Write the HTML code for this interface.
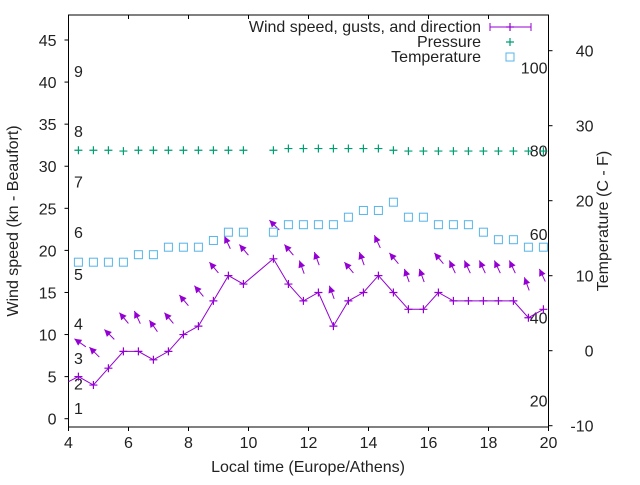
<!DOCTYPE html>
<html><head><meta charset="utf-8"><style>
body{margin:0;background:#fff}
svg text{font-family:"Liberation Sans",sans-serif;font-size:16px;fill:#222}
</style></head><body>
<svg id="c" width="640" height="480" xmlns="http://www.w3.org/2000/svg"></svg>
<script>
const times=[4.33,4.83,5.33,5.83,6.33,6.83,7.33,7.83,8.33,8.83,9.33,9.83,10.83,11.33,11.83,12.33,12.83,13.33,13.83,14.33,14.83,15.33,15.83,16.33,16.83,17.33,17.83,18.33,18.83,19.33,19.83];
const windSpeed=[5,4,6,8,8,7,8,10,11,14,17,16,19,16,14,15,11,14,15,17,15,13,13,15,14,14,14,14,14,12,13];
const gusts=[9.5,8.5,10.6,12.6,12.8,11.7,12.6,14.7,15.8,18.6,21.7,20.7,23.6,20.7,18.8,19.8,15.8,18.6,19.8,21.8,19.7,17.8,17.8,19.7,18.8,18.8,18.8,18.8,18.8,16.8,17.8];
const windDir=[125,135,135,140,155,145,140,140,140,140,155,140,135,140,160,160,160,140,160,155,140,160,160,140,155,155,155,155,155,160,155];
const pressureTimes=[4.33,4.83,5.33,5.83,6.33,6.83,7.33,7.83,8.33,8.83,9.33,9.83,10.83,11.33,11.83,12.33,12.83,13.33,13.83,14.33,14.83,15.33,15.83,16.33,16.83,17.33,17.83,18.33,18.83,19.33,19.83];
const pressure=[31.9,31.9,31.9,31.8,31.9,31.9,31.9,31.9,31.9,31.9,31.9,31.9,31.9,32.1,32.1,32.1,32.1,32.1,32.1,32.1,31.9,31.8,31.8,31.8,31.8,31.8,31.8,31.8,31.8,31.8,31.8];
const tempTimes=[4.33,4.83,5.33,5.83,6.33,6.83,7.33,7.83,8.33,8.83,9.33,9.83,10.83,11.33,11.83,12.33,12.83,13.33,13.83,14.33,14.83,15.33,15.83,16.33,16.83,17.33,17.83,18.33,18.83,19.33,19.83];
const temperature=[11.8,11.8,11.8,11.8,12.8,12.8,13.8,13.8,13.8,14.7,15.8,15.8,15.8,16.8,16.8,16.8,16.8,17.8,18.7,18.7,19.8,17.8,17.8,16.8,16.8,16.8,15.8,14.8,14.8,13.8,13.8];
const xTicks=[4,6,8,10,12,14,16,18,20];
const yTicks=[0,5,10,15,20,25,30,35,40,45];
const y2Ticks=[-10,0,10,20,30,40];
const fTicks=[20,40,60,80,100];
const beaufortNums=[1,2,3,4,5,6,7,8,9];
const beaufortPos=[1.3,4.2,7.2,11.3,17.2,22.2,28.2,34.2,41.3];

const L=68.5,R=548.5,T=15,B=427;
const X=t=>L+(t-4)*30;
const Y=v=>418.7-v*(378.7/45);
const Y2=c=>350.7-c*7.5;
const svg=document.getElementById('c');
const NS='http://www.w3.org/2000/svg';
function mk(tag,at,name,parent){const e=document.createElementNS(NS,tag);for(const k in at)e.setAttribute(k,at[k]);


(parent||svg).appendChild(e);return e;}
function txt(x,y,s,anchor,name){const t=mk('text',{x:x,y:y,'text-anchor':anchor||'start'},name);t.textContent=s;return t;}

mk('rect',{x:L,y:T,width:R-L,height:B-T,fill:'none',stroke:'#000','stroke-width':1},'plot-frame');
xTicks.forEach(t=>{const x=X(t);
 mk('line',{x1:x,y1:B,x2:x,y2:B+4,stroke:'#000'},'x-tick');
 mk('line',{x1:x,y1:T,x2:x,y2:T+4,stroke:'#000'},'x-tick-top');
 txt(x,B+21,String(t),'middle','x-tick-label');});
yTicks.forEach(v=>{const y=Y(v);
 mk('line',{x1:L-4,y1:y,x2:L,y2:y,stroke:'#000'},'y-tick');
 txt(L-12,y+6,String(v),'end','y-tick-label');});
y2Ticks.forEach(v=>{const y=Y2(v);
 mk('line',{x1:R,y1:y,x2:R+4,y2:y,stroke:'#000'},'y2-tick');
 txt(R+45,y+6,String(v),'end','y2-tick-label');});
fTicks.forEach(f=>{const c=(f-32)*5/9;txt(R-1,Y2(c)+6,String(f),'end','fahrenheit-label');});
beaufortNums.forEach((b,i)=>{txt(74,Y(beaufortPos[i])+6,String(b),'start','beaufort-label');});

txt(308,472,'Local time (Europe/Athens)','middle','x-axis-title');
const yt=txt(0,0,'Wind speed (kn - Beaufort)','middle','y-axis-title');yt.setAttribute('transform','translate(18,221) rotate(-90)');
const y2t=txt(0,0,'Temperature (C - F)','middle','y2-axis-title');y2t.setAttribute('transform','translate(608,221) rotate(-90)');

const purple='#9400d3',green='#009e73',blue='#56b4e9';
let d='M'+L+','+Y(4.4);
times.forEach((t,i)=>{d+=' L'+X(t).toFixed(1)+','+Y(windSpeed[i]).toFixed(1);});
mk('path',{d:d,fill:'none',stroke:purple,'stroke-width':1},'wind-speed-line');
function plus(x,y,c,name){const g=mk('g',{},name);mk('path',{d:`M${x-4},${y}H${x+4}M${x},${y-4}V${y+4}`,stroke:c,'stroke-width':1.2},'plus-mark',g);}
times.forEach((t,i)=>plus(X(t),Y(windSpeed[i]),purple,'wind-point'));
times.forEach((t,i)=>{const tx=X(t)-4,ty=Y(gusts[i]);const a=(windDir[i])*Math.PI/180;
 const ux=Math.sin(a),uy=-Math.cos(a);
 const len=14,tailx=tx+ux*len,taily=ty+uy*len;
 const g=mk('g',{},'gust-arrow');
 mk('line',{x1:tailx,y1:taily,x2:tx,y2:ty,stroke:purple,'stroke-width':1},'gust-arrow-shaft',g);
 const px=-uy,py=ux;
 const bx=tx+ux*7,by=ty+uy*7;
 mk('path',{d:`M${tx},${ty}L${bx+px*3.5},${by+py*3.5}L${bx-px*3.5},${by-py*3.5}Z`,fill:purple},'gust-arrow-head',g);});
pressureTimes.forEach((t,i)=>plus(X(t),Y(pressure[i]),green,'pressure-point'));
tempTimes.forEach((t,i)=>mk('rect',{x:X(t)-4,y:Y2(temperature[i])-4,width:8,height:8,fill:'none',stroke:blue,'stroke-width':1},'temperature-point'));

txt(481,32,'Wind speed, gusts, and direction','end','legend-wind-label');
mk('path',{d:'M490,27H531M490,23V31M531,23V31',stroke:purple,fill:'none'},'legend-wind-sample');
plus(510,27,purple,'legend-wind-mark');
txt(481,47,'Pressure','end','legend-pressure-label');
plus(510,42,green,'legend-pressure-mark');
txt(481,62,'Temperature','end','legend-temperature-label');
mk('rect',{x:506,y:53,width:8,height:8,fill:'none',stroke:blue},'legend-temperature-mark');
</script>
</body></html>
